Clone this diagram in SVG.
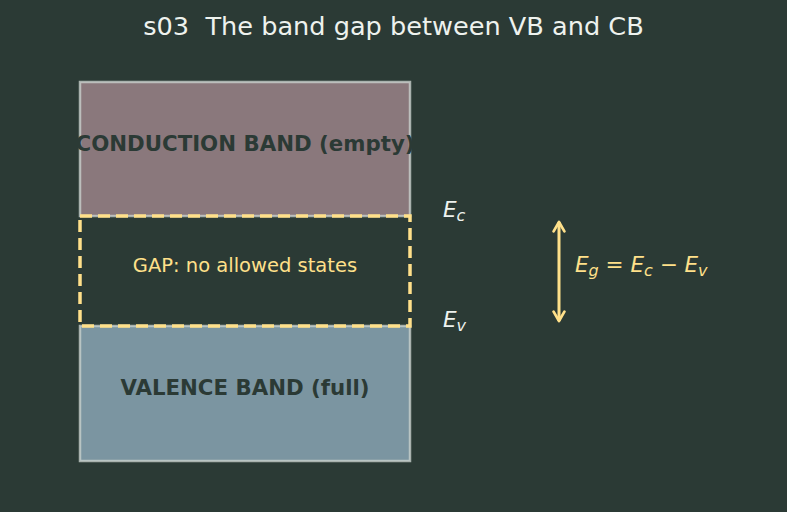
<svg xmlns="http://www.w3.org/2000/svg" width="787" height="512" viewBox="0 0 787 512">
<style>
.t{font-family:"DejaVu Sans",sans-serif}
.band{stroke:#c8d0cc;stroke-width:2.5;stroke-opacity:0.8}
.lbl{font-family:"DejaVu Sans",sans-serif;font-weight:bold;font-size:21.3px;fill:#2b3a35;text-anchor:middle}
.m{font-family:"DejaVu Sans",sans-serif;font-style:italic;font-size:21.5px}
</style>
<defs>
<marker id="ah" viewBox="0 0 10 10" refX="8" refY="5" markerWidth="4.5" markerHeight="4.5" orient="auto-start-reverse">
<path d="M1,1 L8,5 L1,9" fill="none" stroke="#ffe08a" stroke-width="2" stroke-linecap="round" stroke-linejoin="round"/>
</marker>
</defs>
<rect width="787" height="512" fill="#2b3a35"/>
<text class="t" x="393.5" y="35" font-size="25.6" fill="#eef2ee" text-anchor="middle" xml:space="preserve" style="white-space:pre">s03  The band gap between VB and CB</text>
<g id="conduction">
<rect class="band" x="80" y="82" width="330" height="134" fill="#8a787c"/>
<text class="lbl" x="245" y="151">CONDUCTION BAND (empty)</text>
</g>
<g id="valence">
<rect class="band" x="80" y="326" width="330" height="135" fill="#7b95a1"/>
<text class="lbl" x="245" y="395">VALENCE BAND (full)</text>
</g>
<g id="gap">
<rect x="80" y="216" width="330" height="110" fill="none" stroke="#ffe08a" stroke-width="3.5" stroke-dasharray="12,6"/>
<text class="t" x="245" y="272" font-size="19.5" fill="#ffe08a" text-anchor="middle">GAP: no allowed states</text>
</g>
<g id="levels">
<text class="m" x="443" y="217" fill="#eef2ee">E<tspan font-size="16" dy="4">c</tspan></text>
<text class="m" x="443" y="327" fill="#eef2ee">E<tspan font-size="16" dy="4">v</tspan></text>
</g>
<g id="connectors">
<line x1="559" y1="222" x2="559" y2="321" stroke="#ffe08a" stroke-width="3" marker-start="url(#ah)" marker-end="url(#ah)"/>
</g>
<g id="formula">
<text class="m" x="575" y="272" fill="#ffe08a" xml:space="preserve" style="white-space:pre">E<tspan font-size="16" dy="4">g</tspan><tspan dy="-4" font-style="normal"> = </tspan>E<tspan font-size="16" dy="4">c</tspan><tspan dy="-4" font-style="normal"> − </tspan>E<tspan font-size="16" dy="4">v</tspan></text>
</g>
</svg>
